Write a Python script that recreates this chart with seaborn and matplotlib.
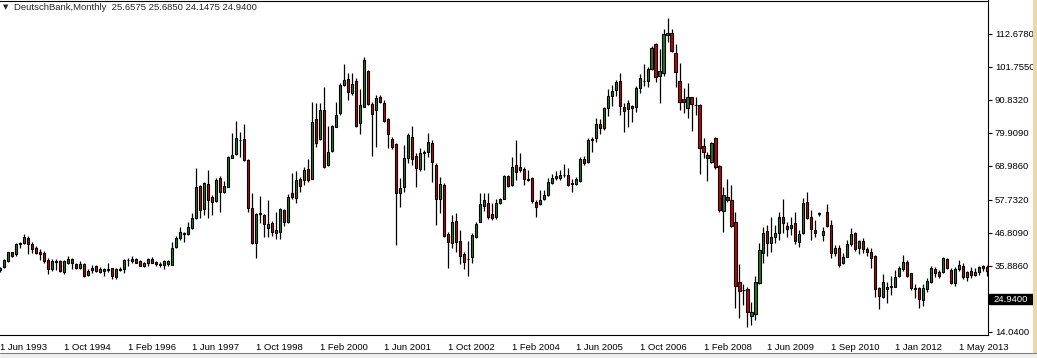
import numpy as np
import matplotlib
matplotlib.use("Agg")
import matplotlib.pyplot as plt
from matplotlib.patches import Rectangle
from matplotlib.transforms import blended_transform_factory
import seaborn as sns

# ---------------- data (monthly OHLC, Jun 1993 ... ) ----------------
opens = [
    34.60, 35.46, 37.66, 40.42, 39.76, 43.29, 43.40, 45.16, 43.18, 41.86,
    40.42, 40.09, 37.88, 34.80, 37.55, 37.44, 34.02, 37.00, 38.22, 36.56,
    35.35, 36.56, 33.03, 34.69, 35.90, 34.02, 34.36, 34.58, 35.13, 32.37,
    34.69, 34.80, 37.77, 37.55, 38.22, 37.44, 36.01, 37.00, 38.22, 37.11,
    36.67, 36.12, 36.56, 36.34, 42.08, 45.05, 46.60, 46.49, 48.36, 51.67,
    62.38, 54.66, 62.93, 58.85, 57.52, 65.03, 60.50, 62.16, 71.75, 72.97,
    77.49, 77.82, 70.98, 54.99, 43.40, 53.22, 52.78, 48.59, 50.02, 46.94,
    47.27, 54.44, 50.58, 59.95, 58.52, 64.69, 64.36, 67.89, 64.69, 84.55,
    77.82, 87.53, 69.33, 73.96, 82.01, 86.42, 95.80, 97.67, 93.04, 97.12,
    83.11, 88.63, 100.43, 89.40, 87.53, 91.94, 89.95, 84.44, 77.82, 76.27,
    59.95, 61.93, 71.53, 78.48, 72.30, 67.89, 73.40, 73.51, 76.49, 69.32,
    57.96, 62.70, 46.38, 43.40, 50.79, 44.17, 39.76, 38.33, 38.77, 45.61,
    50.57, 55.87, 56.64, 53.11, 52.00, 56.64, 58.18, 65.68, 62.70, 69.32,
    67.67, 68.00, 64.69, 64.91, 57.08, 56.31, 57.96, 59.39, 63.48, 64.91,
    64.91, 65.90, 66.01, 63.26, 62.92, 64.14, 71.42, 70.20, 77.70, 78.15,
    82.79, 81.46, 88.08, 92.27, 94.15, 97.13, 88.63, 87.97, 88.08, 88.63,
    94.92, 97.02, 97.24, 101.10, 109.37, 98.89, 99.66, 112.46, 112.90, 106.28,
    97.13, 91.17, 88.08, 91.72, 89.29, 89.18, 75.62, 72.64, 70.43, 78.15,
    69.00, 54.22, 58.63, 57.75, 50.36, 30.73, 28.08, 28.19, 19.47, 19.92,
    30.40, 40.32, 47.49, 43.41, 45.62, 46.94, 52.01, 49.13, 48.58, 50.01,
    43.94, 46.70, 56.96, 52.22, 47.81, 53.21, 46.04, 53.65, 49.46, 40.30,
    41.74, 36.78, 38.98, 43.06, 46.92, 41.96, 44.17, 41.52, 40.63, 39.20,
    28.50, 25.53, 28.17, 28.83, 29.05, 32.69, 34.79, 37.33, 33.47, 28.72,
    28.50, 24.64, 28.17, 30.49, 34.90, 33.80, 33.80, 38.10, 34.57, 30.16,
    34.79, 35.89, 32.36, 34.35, 32.91, 34.02, 35.12, 35.45,
]
highs = [
    35.68, 38.10, 40.64, 40.64, 43.40, 43.95, 46.38, 45.83, 43.95, 42.52,
    41.42, 40.97, 38.44, 38.10, 38.10, 37.88, 37.88, 39.21, 38.66, 37.00,
    37.55, 36.78, 34.80, 36.23, 36.23, 35.46, 35.24, 36.78, 35.35, 35.13,
    35.68, 38.10, 38.55, 39.21, 38.66, 37.88, 37.33, 38.55, 38.99, 37.66,
    37.22, 37.88, 37.88, 43.95, 45.83, 48.92, 47.26, 50.35, 53.55, 68.44,
    62.71, 63.81, 67.67, 59.40, 65.14, 65.69, 64.03, 72.30, 79.81, 83.89,
    80.36, 82.89, 71.20, 59.95, 53.55, 59.18, 53.11, 57.75, 50.80, 53.66,
    54.99, 54.88, 59.73, 66.57, 67.45, 65.47, 68.77, 71.31, 90.28, 89.73,
    89.95, 95.03, 82.23, 82.56, 90.28, 96.35, 102.75, 99.66, 99.66, 98.00,
    94.36, 105.17, 100.76, 90.28, 92.49, 92.49, 90.83, 84.77, 78.48, 76.71,
    64.91, 75.94, 80.02, 82.23, 73.18, 74.84, 74.28, 79.80, 77.59, 69.87,
    65.46, 63.26, 47.26, 52.78, 53.33, 47.81, 40.64, 44.17, 46.71, 50.57,
    59.95, 59.95, 59.95, 56.64, 58.07, 58.51, 66.01, 66.01, 71.86, 77.59,
    73.18, 68.77, 67.67, 65.24, 57.74, 61.05, 61.05, 64.91, 66.34, 67.45,
    67.67, 69.54, 68.22, 64.58, 65.24, 72.08, 72.30, 78.15, 78.70, 84.77,
    84.44, 88.63, 94.37, 95.80, 97.46, 99.66, 89.74, 90.84, 89.18, 95.47,
    99.33, 102.75, 101.87, 108.71, 109.81, 107.60, 114.33, 117.86, 114.33, 109.37,
    102.97, 94.70, 96.35, 91.72, 91.72, 89.40, 78.15, 73.74, 77.05, 78.71,
    69.33, 61.94, 64.59, 62.71, 53.89, 36.46, 29.84, 29.07, 23.89, 32.71,
    43.41, 48.93, 49.48, 52.24, 49.48, 53.89, 57.97, 50.56, 52.22, 53.65,
    47.81, 58.28, 60.27, 54.42, 51.11, 53.87, 48.91, 56.41, 51.11, 42.84,
    42.84, 40.08, 44.50, 48.36, 47.25, 44.50, 45.05, 42.29, 41.96, 39.53,
    28.83, 33.25, 30.49, 32.58, 34.57, 35.89, 39.53, 37.88, 33.69, 29.83,
    28.83, 29.94, 31.81, 35.89, 35.45, 34.57, 38.76, 38.43, 35.12, 35.45,
    37.88, 37.00, 34.35, 35.45, 35.12, 35.89, 36.22, 36.22,
]
lows = [
    34.02, 35.13, 37.33, 38.77, 39.32, 41.75, 43.18, 39.76, 40.09, 39.87,
    37.88, 37.00, 33.25, 34.36, 34.58, 34.02, 33.36, 36.56, 35.02, 34.80,
    35.02, 32.37, 32.70, 33.47, 33.80, 33.69, 32.70, 34.02, 31.49, 31.49,
    34.13, 33.69, 35.90, 36.78, 36.78, 35.90, 35.46, 36.01, 36.78, 36.01,
    35.68, 34.80, 36.01, 36.12, 41.86, 44.50, 43.95, 46.16, 48.14, 51.45,
    51.68, 52.78, 51.68, 52.78, 57.19, 53.88, 59.95, 61.94, 71.53, 72.64,
    72.08, 70.65, 53.89, 43.19, 38.66, 50.02, 45.61, 45.61, 45.94, 44.73,
    44.73, 49.25, 50.25, 57.97, 56.86, 60.50, 62.71, 63.81, 64.58, 75.17,
    77.60, 68.22, 69.00, 73.74, 81.79, 85.87, 95.58, 90.83, 92.49, 81.79,
    79.58, 88.41, 89.18, 72.42, 75.39, 89.73, 83.66, 74.84, 74.51, 42.85,
    55.53, 60.50, 69.87, 69.32, 62.15, 67.45, 67.67, 72.08, 63.81, 49.47,
    53.33, 45.39, 35.35, 41.97, 40.64, 36.45, 34.91, 32.70, 36.78, 45.27,
    50.35, 54.21, 51.45, 51.12, 51.34, 56.42, 57.96, 61.93, 62.37, 64.36,
    67.11, 62.70, 64.14, 56.64, 52.22, 56.09, 57.74, 59.06, 63.03, 64.36,
    64.36, 65.46, 62.37, 60.50, 62.59, 63.81, 69.43, 69.87, 73.73, 77.05,
    79.59, 80.91, 85.54, 88.85, 92.16, 85.88, 80.36, 82.02, 83.67, 86.98,
    93.27, 95.47, 95.25, 100.77, 96.91, 89.96, 98.89, 109.92, 106.83, 95.03,
    87.53, 86.65, 84.99, 80.69, 85.88, 66.35, 71.54, 64.15, 70.10, 67.90,
    53.89, 47.27, 57.20, 48.92, 22.12, 18.59, 23.00, 15.61, 16.39, 18.04,
    29.95, 36.79, 39.22, 40.65, 43.63, 44.51, 46.94, 45.38, 46.15, 43.06,
    42.07, 46.48, 51.33, 44.50, 45.38, 52.55, 44.28, 48.91, 38.43, 39.20,
    35.45, 36.44, 38.76, 42.62, 40.97, 39.86, 40.30, 39.20, 35.12, 25.75,
    21.55, 25.19, 23.76, 26.30, 28.83, 32.14, 34.35, 32.14, 27.95, 25.19,
    22.10, 22.66, 27.40, 30.16, 32.14, 31.81, 33.47, 34.79, 29.83, 29.38,
    34.35, 31.59, 31.04, 32.03, 32.58, 32.91, 34.35, 32.58,
]
closes = [
    35.13, 37.88, 40.42, 39.32, 43.18, 43.51, 45.39, 43.07, 41.64, 40.31,
    39.98, 37.66, 34.80, 37.44, 37.33, 34.36, 37.44, 38.22, 36.78, 35.35,
    36.56, 32.70, 34.36, 35.24, 34.36, 34.91, 35.02, 34.69, 32.59, 34.91,
    34.91, 37.88, 37.88, 38.22, 37.00, 36.01, 37.00, 38.22, 37.00, 36.56,
    36.12, 37.44, 37.44, 41.86, 45.27, 47.26, 46.82, 48.92, 51.67, 62.04,
    54.44, 63.48, 57.75, 57.19, 64.36, 60.50, 62.38, 72.08, 72.64, 78.15,
    77.60, 70.98, 55.21, 43.40, 53.11, 53.33, 49.69, 49.80, 47.27, 47.82,
    54.77, 50.36, 58.85, 58.85, 64.36, 62.38, 67.67, 64.36, 83.67, 76.50,
    87.53, 68.78, 73.52, 82.23, 85.87, 95.80, 97.45, 93.37, 96.13, 82.23,
    89.18, 104.07, 89.40, 86.20, 91.39, 90.28, 83.99, 79.47, 75.39, 59.95,
    61.60, 71.53, 79.25, 71.20, 68.22, 73.18, 73.62, 76.82, 70.20, 57.96,
    62.92, 45.83, 43.95, 50.35, 43.73, 39.32, 37.33, 38.11, 46.16, 49.80,
    56.31, 57.74, 52.24, 51.89, 56.64, 58.07, 65.68, 62.48, 68.77, 67.11,
    68.77, 64.58, 64.47, 57.52, 55.53, 57.74, 59.39, 63.70, 65.13, 65.68,
    66.01, 66.12, 62.70, 63.03, 64.69, 71.31, 69.87, 77.59, 77.92, 82.79,
    81.46, 88.08, 92.16, 93.82, 96.69, 88.96, 87.31, 89.74, 88.85, 94.70,
    98.01, 97.24, 100.99, 107.94, 98.56, 100.44, 112.68, 113.01, 107.05, 100.21,
    90.07, 90.07, 91.72, 89.41, 89.07, 74.84, 73.74, 71.54, 76.50, 68.56,
    54.44, 59.40, 57.75, 49.26, 29.40, 27.75, 27.86, 20.80, 20.58, 30.51,
    41.20, 46.72, 43.41, 45.39, 46.72, 52.01, 50.25, 48.03, 49.46, 44.28,
    46.48, 56.63, 51.67, 48.14, 46.70, 53.43, 47.47, 49.24, 40.08, 41.74,
    36.22, 38.98, 43.06, 46.48, 41.41, 44.17, 41.41, 40.63, 38.43, 28.17,
    26.08, 30.49, 28.83, 29.27, 32.36, 35.12, 37.33, 32.58, 28.72, 28.17,
    24.86, 28.72, 30.93, 35.12, 33.69, 32.69, 38.43, 35.12, 30.38, 34.90,
    36.22, 32.14, 33.80, 32.91, 33.80, 35.45, 35.89, 34.35,
]

date_labels = ["1 Jun 1993", "1 Oct 1994", "1 Feb 1996", "1 Jun 1997",
               "1 Oct 1998", "1 Feb 2000", "1 Jun 2001", "1 Oct 2002",
               "1 Feb 2004", "1 Jun 2005", "1 Oct 2006", "1 Feb 2008",
               "1 Jun 2009", "1 Sep 2010", "1 Jan 2012", "1 May 2013"]
date_label_bars = [0, 16, 32, 48, 64, 80, 96, 112, 128, 144, 160, 176,
                   192, 208, 224, 240]
price_ticks = [112.678, 101.755, 90.832, 79.909, 68.986, 57.732,
               46.809, 35.886, 14.040]
last_price = 24.94
header_symbol = "DeutschBank,Monthly"
header_ohlc = ["25.6575", "25.6850", "24.1475", "24.9400"]

# ---------------- style ----------------
sns.set_style("white", {"axes.edgecolor": "black", "axes.linewidth": 0.8})
plt.rcParams["font.family"] = ["Liberation Sans", "DejaVu Sans"]

W, H = 1037, 358
fig = plt.figure(figsize=(W / 100, H / 100), dpi=100)
fig.patch.set_facecolor("white")
ax = fig.add_axes([0, 1 - 335 / H, 988 / W, 334.5 / H])
ax.set_facecolor("white")

o = np.array(opens); h = np.array(highs); l = np.array(lows); c = np.array(closes)
x = np.arange(len(o))

UP = "#1f7a1f"
DOWN = "#cc0000"
ax.vlines(x, l, h, color="black", linewidth=0.9, zorder=2)
body_col = np.where(c >= o, UP, DOWN)
ax.bar(x, np.maximum(np.abs(c - o), 0.15), bottom=np.minimum(o, c), width=0.52,
       color=body_col, edgecolor="black", linewidth=0.8, zorder=3)

ax.set_xlim(0.175, 247.175)
ax.set_ylim(13.04, 123.76)

# spines
ax.spines["left"].set_visible(False)
for s in ("top", "right", "bottom"):
    ax.spines[s].set_color("black")
    ax.spines[s].set_linewidth(0.8)

# y ticks on the right
ax.yaxis.tick_right()
ax.set_yticks(price_ticks)
ax.set_yticklabels([f"{v:.4f}" for v in price_ticks])
ax.tick_params(axis="y", direction="out", length=3, width=0.8, pad=2,
               labelsize=6.8, colors="black", left=False, right=True)

# x ticks
ax.set_xticks(date_label_bars)
ax.set_xticklabels(date_labels)
for t in ax.get_xticklabels():
    t.set_ha("left")
ax.tick_params(axis="x", direction="out", length=3, width=0.8, pad=2.5,
               labelsize=6.8, colors="black")
ax.grid(False)

# current price box
tr = blended_transform_factory(ax.transAxes, ax.transData)
ax.add_patch(Rectangle((1.001, last_price - 1.55), 0.0445, 3.1, transform=tr,
                       facecolor="black", edgecolor="black", clip_on=False, zorder=5))
ax.text(1.0 + 5 / 988, last_price, f"{last_price:.4f}", transform=tr, color="white",
        fontsize=6.8, va="center", ha="left", zorder=6)

# header
fig.text(3 / W, 1 - 7.5 / H, "\u25bc", fontsize=5, va="center", ha="left",
         family=["DejaVu Sans"])
fig.text(14 / W, 1 - 7.5 / H, header_symbol + "  " + " ".join(header_ohlc),
         fontsize=6.8, va="center", ha="left")

# window decorations (right edge strip and bottom bar)
fig.patches.append(Rectangle((1033 / W, 0), 4 / W, 1, transform=fig.transFigure,
                             facecolor="#ead9a6", edgecolor="none"))
fig.patches.append(Rectangle((0, 0), 1, 5 / H, transform=fig.transFigure,
                             facecolor="#f0f0f0", edgecolor="none"))
fig.lines.append(plt.Line2D([0, 1], [1 - 353 / H] * 2, transform=fig.transFigure,
                            color="#808080", linewidth=0.8))

fig.savefig("out.png", dpi=100)
